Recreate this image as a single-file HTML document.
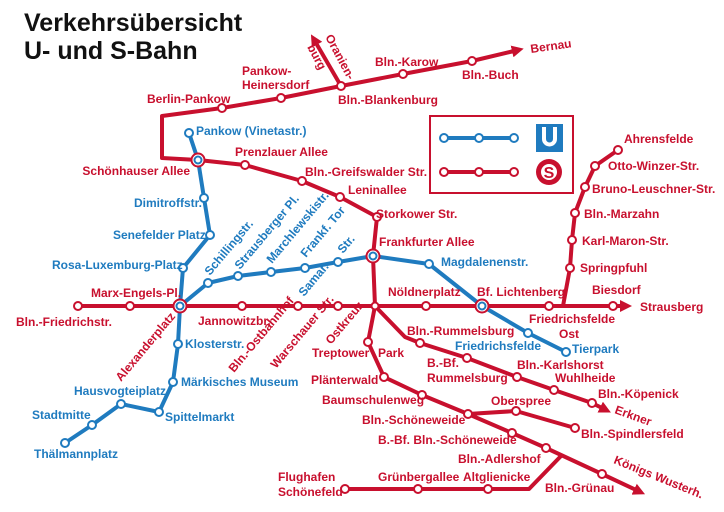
<!DOCTYPE html>
<html><head><meta charset="utf-8"><style>
html,body{margin:0;padding:0;background:#fff}
svg{display:block}
text{font-family:"Liberation Sans Narrow","Liberation Sans",sans-serif;font-weight:bold;font-size:12px}
.r{fill:#c8102e}.b{fill:#1f7bbf}
.t{fill:#111;font-family:"Liberation Sans",sans-serif;font-size:25px;font-weight:bold}
</style></head><body>
<svg width="724" height="512" viewBox="0 0 724 512" xmlns="http://www.w3.org/2000/svg">
<defs>
<marker id="ar" markerWidth="3" markerHeight="3" refX="0.5" refY="1.5" orient="auto" markerUnits="strokeWidth"><path d="M0,0 L3,1.5 L0,3 z" fill="#c8102e"/></marker>
</defs>
<text class="t" x="24" y="31">Verkehrsübersicht</text>
<text class="t" x="24" y="59">U- und S-Bahn</text>

<g fill="none" stroke="#c8102e" stroke-width="4" stroke-linejoin="round">
<polyline points="78,306 622,306" marker-end="url(#ar)"/>
<polyline points="563,306 570,268 572,240 575,213 585,187 595,166 618,150"/>
<polyline points="198,160 162,158 162,116 222,108 281,98 341,86 403,74 472,61 514,51" marker-end="url(#ar)"/>
<polyline points="341,86 316,43" marker-end="url(#ar)"/>
<polyline points="198,160 245,165 302,181 340,197 377,217 373,256 375,306"/>
<polyline points="375,306 368,342 384,377 422,395 468,414 512,433 546,448 602,474 636,490" marker-end="url(#ar)"/>
<polyline points="468,414 516,411 575,428"/>
<polyline points="561,456 529,489 345,489"/>
<polyline points="375,306 405,337 420,343 467,358 517,377 554,390 592,403 602,408" marker-end="url(#ar)"/>
</g>
<g fill="none" stroke="#1f7bbf" stroke-width="4" stroke-linejoin="round">
<polyline points="189,133 198,160 204,198 210,235 183,268 180,306 178,344 173,382 159,412 121,404 92,425 65,443"/>
<polyline points="180,306 208,283 238,276 271,272 305,268 338,262 373,256 429,264 482,306 528,333 566,352"/>
</g>
<g fill="#fff" stroke="#c8102e" stroke-width="2">
<circle cx="78" cy="306" r="4"/><circle cx="130" cy="306" r="4"/><circle cx="242" cy="306" r="4"/><circle cx="298" cy="306" r="4"/><circle cx="338" cy="306" r="4"/><circle cx="375" cy="306" r="3.5"/><circle cx="426" cy="306" r="4"/><circle cx="549" cy="306" r="4"/><circle cx="613" cy="306" r="4"/>
<circle cx="570" cy="268" r="4"/><circle cx="572" cy="240" r="4"/><circle cx="575" cy="213" r="4"/><circle cx="585" cy="187" r="4"/><circle cx="595" cy="166" r="4"/><circle cx="618" cy="150" r="4"/>
<circle cx="222" cy="108" r="4"/><circle cx="281" cy="98" r="4"/><circle cx="341" cy="86" r="4"/><circle cx="403" cy="74" r="4"/><circle cx="472" cy="61" r="4"/>
<circle cx="245" cy="165" r="4"/><circle cx="302" cy="181" r="4"/><circle cx="340" cy="197" r="4"/><circle cx="377" cy="217" r="4"/>
<circle cx="368" cy="342" r="4"/><circle cx="384" cy="377" r="4"/><circle cx="422" cy="395" r="4"/><circle cx="468" cy="414" r="4"/><circle cx="512" cy="433" r="4"/><circle cx="546" cy="448" r="4"/><circle cx="602" cy="474" r="4"/>
<circle cx="516" cy="411" r="4"/><circle cx="575" cy="428" r="4"/>
<circle cx="488" cy="489" r="4"/><circle cx="418" cy="489" r="4"/><circle cx="345" cy="489" r="4"/>
<circle cx="420" cy="343" r="4"/><circle cx="467" cy="358" r="4"/><circle cx="517" cy="377" r="4"/><circle cx="554" cy="390" r="4"/><circle cx="592" cy="403" r="4"/>
</g>
<g fill="#fff" stroke="#1f7bbf" stroke-width="2">
<circle cx="189" cy="133" r="4"/><circle cx="204" cy="198" r="4"/><circle cx="210" cy="235" r="4"/><circle cx="183" cy="268" r="4"/><circle cx="178" cy="344" r="4"/><circle cx="173" cy="382" r="4"/><circle cx="159" cy="412" r="4"/><circle cx="121" cy="404" r="4"/><circle cx="92" cy="425" r="4"/><circle cx="65" cy="443" r="4"/>
<circle cx="208" cy="283" r="4"/><circle cx="238" cy="276" r="4"/><circle cx="271" cy="272" r="4"/><circle cx="305" cy="268" r="4"/><circle cx="338" cy="262" r="4"/><circle cx="429" cy="264" r="4"/><circle cx="528" cy="333" r="4"/><circle cx="566" cy="352" r="4"/>
</g>
<g stroke-width="2">
<circle cx="198" cy="160" r="6.5" fill="#fff" stroke="#c8102e"/><circle cx="198" cy="160" r="3.5" fill="#fff" stroke="#1f7bbf"/>
<circle cx="180" cy="306" r="6.5" fill="#fff" stroke="#c8102e"/><circle cx="180" cy="306" r="3.5" fill="#fff" stroke="#1f7bbf"/>
<circle cx="373" cy="256" r="6.5" fill="#fff" stroke="#c8102e"/><circle cx="373" cy="256" r="3.5" fill="#fff" stroke="#1f7bbf"/>
<circle cx="482" cy="306" r="6.5" fill="#fff" stroke="#c8102e"/><circle cx="482" cy="306" r="3.5" fill="#fff" stroke="#1f7bbf"/>
</g>

<rect x="430" y="116" width="143" height="77" fill="#fff" stroke="#c8102e" stroke-width="2"/>
<line x1="444" y1="138" x2="514" y2="138" stroke="#1f7bbf" stroke-width="4"/>
<line x1="444" y1="172" x2="514" y2="172" stroke="#c8102e" stroke-width="4"/>
<g fill="#fff" stroke-width="2"><circle cx="444" cy="138" r="4" stroke="#1f7bbf"/><circle cx="479" cy="138" r="4" stroke="#1f7bbf"/><circle cx="514" cy="138" r="4" stroke="#1f7bbf"/>
<circle cx="444" cy="172" r="4" stroke="#c8102e"/><circle cx="479" cy="172" r="4" stroke="#c8102e"/><circle cx="514" cy="172" r="4" stroke="#c8102e"/></g>
<rect x="536" y="124" width="27" height="28" fill="#1f7bbf"/>
<path d="M542,127 v12 a7.5,7.5 0 0 0 15,0 v-12 h-4 v12 a3.5,3.5 0 0 1 -7,0 v-12z" fill="#fff"/>
<circle cx="549" cy="172" r="13" fill="#c8102e"/>
<circle cx="549" cy="172" r="8" fill="#fff"/>
<text x="549" y="178" text-anchor="middle" style="font-size:16px;fill:#c8102e;font-family:'Liberation Sans',sans-serif">S</text>

<g class="r">
<text x="147" y="103">Berlin-Pankow</text>
<text x="242" y="75">Pankow-</text><text x="242" y="89">Heinersdorf</text>
<text transform="translate(325,37) rotate(62)">Oranien-</text>
<text transform="translate(307,47) rotate(62)">burg</text>
<text x="338" y="104">Bln.-Blankenburg</text>
<text x="375" y="66">Bln.-Karow</text>
<text x="462" y="79">Bln.-Buch</text>
<text transform="translate(531,53) rotate(-8)">Bernau</text>
<text x="190" y="175" text-anchor="end">Schönhauser Allee</text>
<text x="235" y="156">Prenzlauer Allee</text>
<text x="305" y="176">Bln.-Greifswalder Str.</text>
<text x="348" y="194">Leninallee</text>
<text x="376" y="218">Storkower Str.</text>
<text x="379" y="246">Frankfurter Allee</text>
<text x="624" y="143">Ahrensfelde</text>
<text x="608" y="170">Otto-Winzer-Str.</text>
<text x="592" y="193">Bruno-Leuschner-Str.</text>
<text x="584" y="218">Bln.-Marzahn</text>
<text x="582" y="245">Karl-Maron-Str.</text>
<text x="580" y="272">Springpfuhl</text>
<text x="592" y="294">Biesdorf</text>
<text x="640" y="311">Strausberg</text>
<text x="529" y="323">Friedrichsfelde</text><text x="559" y="338">Ost</text>
<text x="477" y="296">Bf. Lichtenberg</text>
<text x="388" y="296">Nöldnerplatz</text>
<text x="91" y="297">Marx-Engels-Pl.</text>
<text x="16" y="326">Bln.-Friedrichstr.</text>
<text x="198" y="325">Jannowitzbr.</text>
<text transform="translate(121,382) rotate(-50)">Alexanderplatz</text>
<text transform="translate(234,373) rotate(-50)">Bln.-Ostbahnhof</text>
<text transform="translate(276,369) rotate(-50)">Warschauer Str.</text>
<text transform="translate(331,345) rotate(-50)">Ostkreuz</text>
<text x="312" y="357">Treptower</text><text x="378" y="357">Park</text>
<text x="311" y="384">Plänterwald</text>
<text x="322" y="404">Baumschulenweg</text>
<text x="407" y="335">Bln.-Rummelsburg</text>
<text x="427" y="367">B.-Bf.</text><text x="427" y="382">Rummelsburg</text>
<text x="517" y="369">Bln.-Karlshorst</text>
<text x="555" y="382">Wuhlheide</text>
<text x="598" y="398">Bln.-Köpenick</text>
<text transform="translate(614,413) rotate(20)">Erkner</text>
<text x="491" y="405">Oberspree</text>
<text x="362" y="424">Bln.-Schöneweide</text>
<text x="581" y="438">Bln.-Spindlersfeld</text>
<text x="378" y="444">B.-Bf. Bln.-Schöneweide</text>
<text x="458" y="463">Bln.-Adlershof</text>
<text x="378" y="481">Grünbergallee</text>
<text x="463" y="481">Altglienicke</text>
<text x="545" y="492">Bln.-Grünau</text>
<text transform="translate(613,463) rotate(22)">Königs Wusterh.</text>
<text x="278" y="481">Flughafen</text><text x="278" y="496">Schönefeld</text>
</g>
<g class="b">
<text x="196" y="135">Pankow (Vinetastr.)</text>
<text x="134" y="207">Dimitroffstr.</text>
<text x="113" y="239">Senefelder Platz</text>
<text x="52" y="269">Rosa-Luxemburg-Platz</text>
<text x="185" y="348">Klosterstr.</text>
<text x="181" y="386">Märkisches Museum</text>
<text x="165" y="421">Spittelmarkt</text>
<text x="74" y="395">Hausvogteiplatz</text>
<text x="32" y="419">Stadtmitte</text>
<text x="34" y="458">Thälmannplatz</text>
<text x="441" y="266">Magdalenenstr.</text>
<text x="455" y="350">Friedrichsfelde</text>
<text x="572" y="353">Tierpark</text>
<text transform="translate(210,276) rotate(-50)">Schillingstr.</text>
<text transform="translate(240,270) rotate(-50)">Strausberger Pl.</text>
<text transform="translate(272,264) rotate(-50)">Marchlewskistr.</text>
<text transform="translate(306,258) rotate(-50)">Frankf. Tor</text>
<text transform="translate(343,254) rotate(-50)">Str.</text>
<text transform="translate(304,297) rotate(-50)">Samar.</text>
</g>
</svg>
</body></html>
